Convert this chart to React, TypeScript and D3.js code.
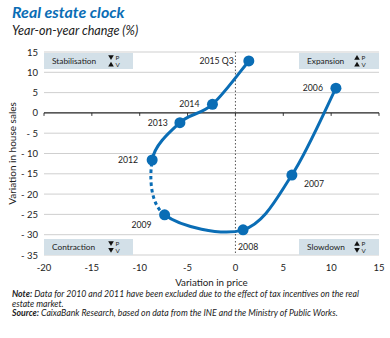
import React from "react";
import * as d3 from "d3";

// Year labels and the yearly changes (%) in price and in house sales
const years = ["2006", "2007", "2008", "2009", "2012", "2013", "2014", "2015 Q3"];
const priceChange = [10.5, 5.9, 0.8, -7.4, -8.7, -5.8, -2.4, 1.4];
const salesChange = [6.1, -15.3, -28.8, -25.1, -11.6, -2.4, 2.1, 12.8];

const xTicks = [-20, -15, -10, -5, 0, 5, 10, 15];
const yTicks = [15, 10, 5, 0, -5, -10, -15, -20, -25, -30, -35];

// Quadrant captions: name, price direction, volume direction
const quadrants = [
  { name: "Stabilisation", p: "down", v: "up", corner: "tl" },
  { name: "Expansion", p: "up", v: "up", corner: "tr" },
  { name: "Contraction", p: "down", v: "down", corner: "bl" },
  { name: "Slowdown", p: "up", v: "down", corner: "br" },
];

// Where each year label sits relative to its marker
const labelPlacement = [
  { dx: -13, dy: 3, anchor: "end" },
  { dx: 12, dy: 12, anchor: "start" },
  { dx: -5, dy: 20, anchor: "start" },
  { dx: -13, dy: 13, anchor: "end" },
  { dx: -14, dy: 3, anchor: "end" },
  { dx: -12, dy: 3, anchor: "end" },
  { dx: -13, dy: 3, anchor: "end" },
  { dx: -15, dy: 3, anchor: "end" },
];

const W = 390;
const H = 338;
const BLUE = "#0a6db5";
const FONT = "Lato, 'Noto Sans', sans-serif";

const x = d3.scaleLinear().domain([-20, 15]).range([44, 379]);
const y = d3.scaleLinear().domain([-35, 15]).range([255, 52]);

type Pt = [number, number];
const pts: Pt[] = priceChange.map((p, i) => [x(p), y(salesChange[i])]);

// Catmull-Rom segment between points i and i+1, as a cubic Bezier
function segment(path: d3.Path, i: number, move: boolean) {
  const p0 = pts[i - 1] ?? pts[i];
  const p1 = pts[i];
  const p2 = pts[i + 1];
  const p3 = pts[i + 2] ?? pts[i + 1];
  if (move) path.moveTo(p1[0], p1[1]);
  path.bezierCurveTo(
    p1[0] + (p2[0] - p0[0]) / 6,
    p1[1] + (p2[1] - p0[1]) / 6,
    p2[0] - (p3[0] - p1[0]) / 6,
    p2[1] - (p3[1] - p1[1]) / 6,
    p2[0],
    p2[1]
  );
}

function curve(from: number, to: number) {
  const path = d3.path();
  for (let i = from; i < to; i++) segment(path, i, i === from);
  return path.toString();
}

function Tri({ cx, cy, dir }: { cx: number; cy: number; dir: string }) {
  const s = 2.8;
  const d =
    dir === "up"
      ? `M${cx - s},${cy + s * 0.8}L${cx + s},${cy + s * 0.8}L${cx},${cy - s * 0.9}Z`
      : `M${cx - s},${cy - s * 0.8}L${cx + s},${cy - s * 0.8}L${cx},${cy + s * 0.9}Z`;
  return <path d={d} fill="#111" />;
}

function QuadrantBox({ q }: { q: (typeof quadrants)[number] }) {
  const bh = 16;
  const isLeft = q.corner.endsWith("l");
  const w = isLeft ? 89 : 80;
  const left = isLeft ? x(-20) : x(15) - w;
  const top = q.corner.startsWith("t") ? y(15) + 1 : y(-35) - bh;
  const symX = left + w - 22;
  return (
    <g>
      <rect x={left} y={top} width={w} height={bh} fill="#d3e0e8" />
      <text x={left + 8} y={top + bh / 2 + 3} fontSize={8.3} fill="#222" fontFamily={FONT}>
        {q.name}
      </text>
      <Tri cx={symX} cy={top + 4.5} dir={q.p} />
      <Tri cx={symX} cy={top + 11.2} dir={q.v} />
      <text x={symX + 4.5} y={top + 6.6} fontSize={6.3} fill="#222" fontFamily={FONT}>
        P
      </text>
      <text x={symX + 4.5} y={top + 14.3} fontSize={6.3} fill="#222" fontFamily={FONT}>
        V
      </text>
    </g>
  );
}

export default function App() {
  return (
    <svg width={W} height={H} style={{ display: "block", position: "absolute", left: 0, top: 0 }}>
      <rect width={W} height={H} fill="#fff" />
      <text x={12} y={17.5} fontSize={16} fontWeight={700} fontStyle="italic" fill={BLUE} fontFamily={FONT}>
        Real estate clock
      </text>
      <text x={12} y={34.5} fontSize={12.6} fontStyle="italic" fill="#222" fontFamily={FONT}>
        Year-on-year change (%)
      </text>

      {/* horizontal gridlines */}
      {yTicks.map((t) => (
        <line
          key={t}
          x1={x(-20)}
          x2={x(15)}
          y1={y(t)}
          y2={y(t)}
          stroke={t === 0 ? "#222" : "#c9c9c9"}
          strokeWidth={t === 0 ? 1.1 : 0.9}
        />
      ))}
      {/* ticks on the zero line */}
      {xTicks.map((t) => (
        <line key={t} x1={x(t)} x2={x(t)} y1={y(0)} y2={y(0) + 3} stroke="#222" strokeWidth={0.9} />
      ))}
      {/* zero-price reference */}
      <line
        x1={x(0)}
        x2={x(0)}
        y1={y(15)}
        y2={y(-35)}
        stroke="#555"
        strokeWidth={1}
        strokeDasharray="1.5 2"
      />

      {quadrants.map((q) => (
        <QuadrantBox key={q.name} q={q} />
      ))}

      {/* y tick labels */}
      {yTicks.map((t) => (
        <text
          key={t}
          x={38}
          y={y(t) + 3.5}
          textAnchor="end"
          fontSize={9.5}
          fill="#222"
          fontFamily={FONT}
        >
          {t < 0 ? `- ${Math.abs(t)}` : t}
        </text>
      ))}
      {/* x tick labels */}
      {xTicks.map((t) => (
        <text key={t} x={x(t)} y={271} textAnchor="middle" fontSize={9.5} fill="#222" fontFamily={FONT}>
          {t}
        </text>
      ))}
      <text x={x(-2.5)} y={285.5} textAnchor="middle" fontSize={9.8} fill="#222" fontFamily={FONT}>
        Variation in price
      </text>
      <text
        transform={`translate(16,${(y(15) + y(-35)) / 2}) rotate(-90)`}
        textAnchor="middle"
        fontSize={10}
        fill="#222"
        fontFamily={FONT}
      >
        Variation in house sales
      </text>

      {/* the clock path */}
      <path d={curve(0, 3)} fill="none" stroke={BLUE} strokeWidth={3} strokeLinecap="round" />
      <path d={curve(3, 4)} fill="none" stroke={BLUE} strokeWidth={3} strokeDasharray="3.5 3" />
      <path d={curve(4, 7)} fill="none" stroke={BLUE} strokeWidth={3} strokeLinecap="round" />
      {pts.map((p, i) => (
        <circle key={years[i]} cx={p[0]} cy={p[1]} r={5.5} fill={BLUE} />
      ))}
      {pts.map((p, i) => (
        <text
          key={years[i]}
          x={p[0] + labelPlacement[i].dx}
          y={p[1] + labelPlacement[i].dy}
          textAnchor={labelPlacement[i].anchor as any}
          fontSize={8.7}
          fill="#222"
          fontFamily={FONT}
        >
          {years[i]}
        </text>
      ))}

      {/* footnotes */}
      <text x={12} y={297} fontSize={8.7} fontStyle="italic" fill="#222" fontFamily={FONT}>
        <tspan fontWeight={700}>Note:</tspan> Data for 2010 and 2011 have been excluded due to the effect of tax
        incentives on the real
      </text>
      <text x={12} y={306.5} fontSize={8.7} fontStyle="italic" fill="#222" fontFamily={FONT}>
        estate market.
      </text>
      <text x={12} y={316} fontSize={8.7} fontStyle="italic" fill="#222" fontFamily={FONT}>
        <tspan fontWeight={700}>Source:</tspan> CaixaBank Research, based on data from the INE and the Ministry of
        Public Works.
      </text>
    </svg>
  );
}
